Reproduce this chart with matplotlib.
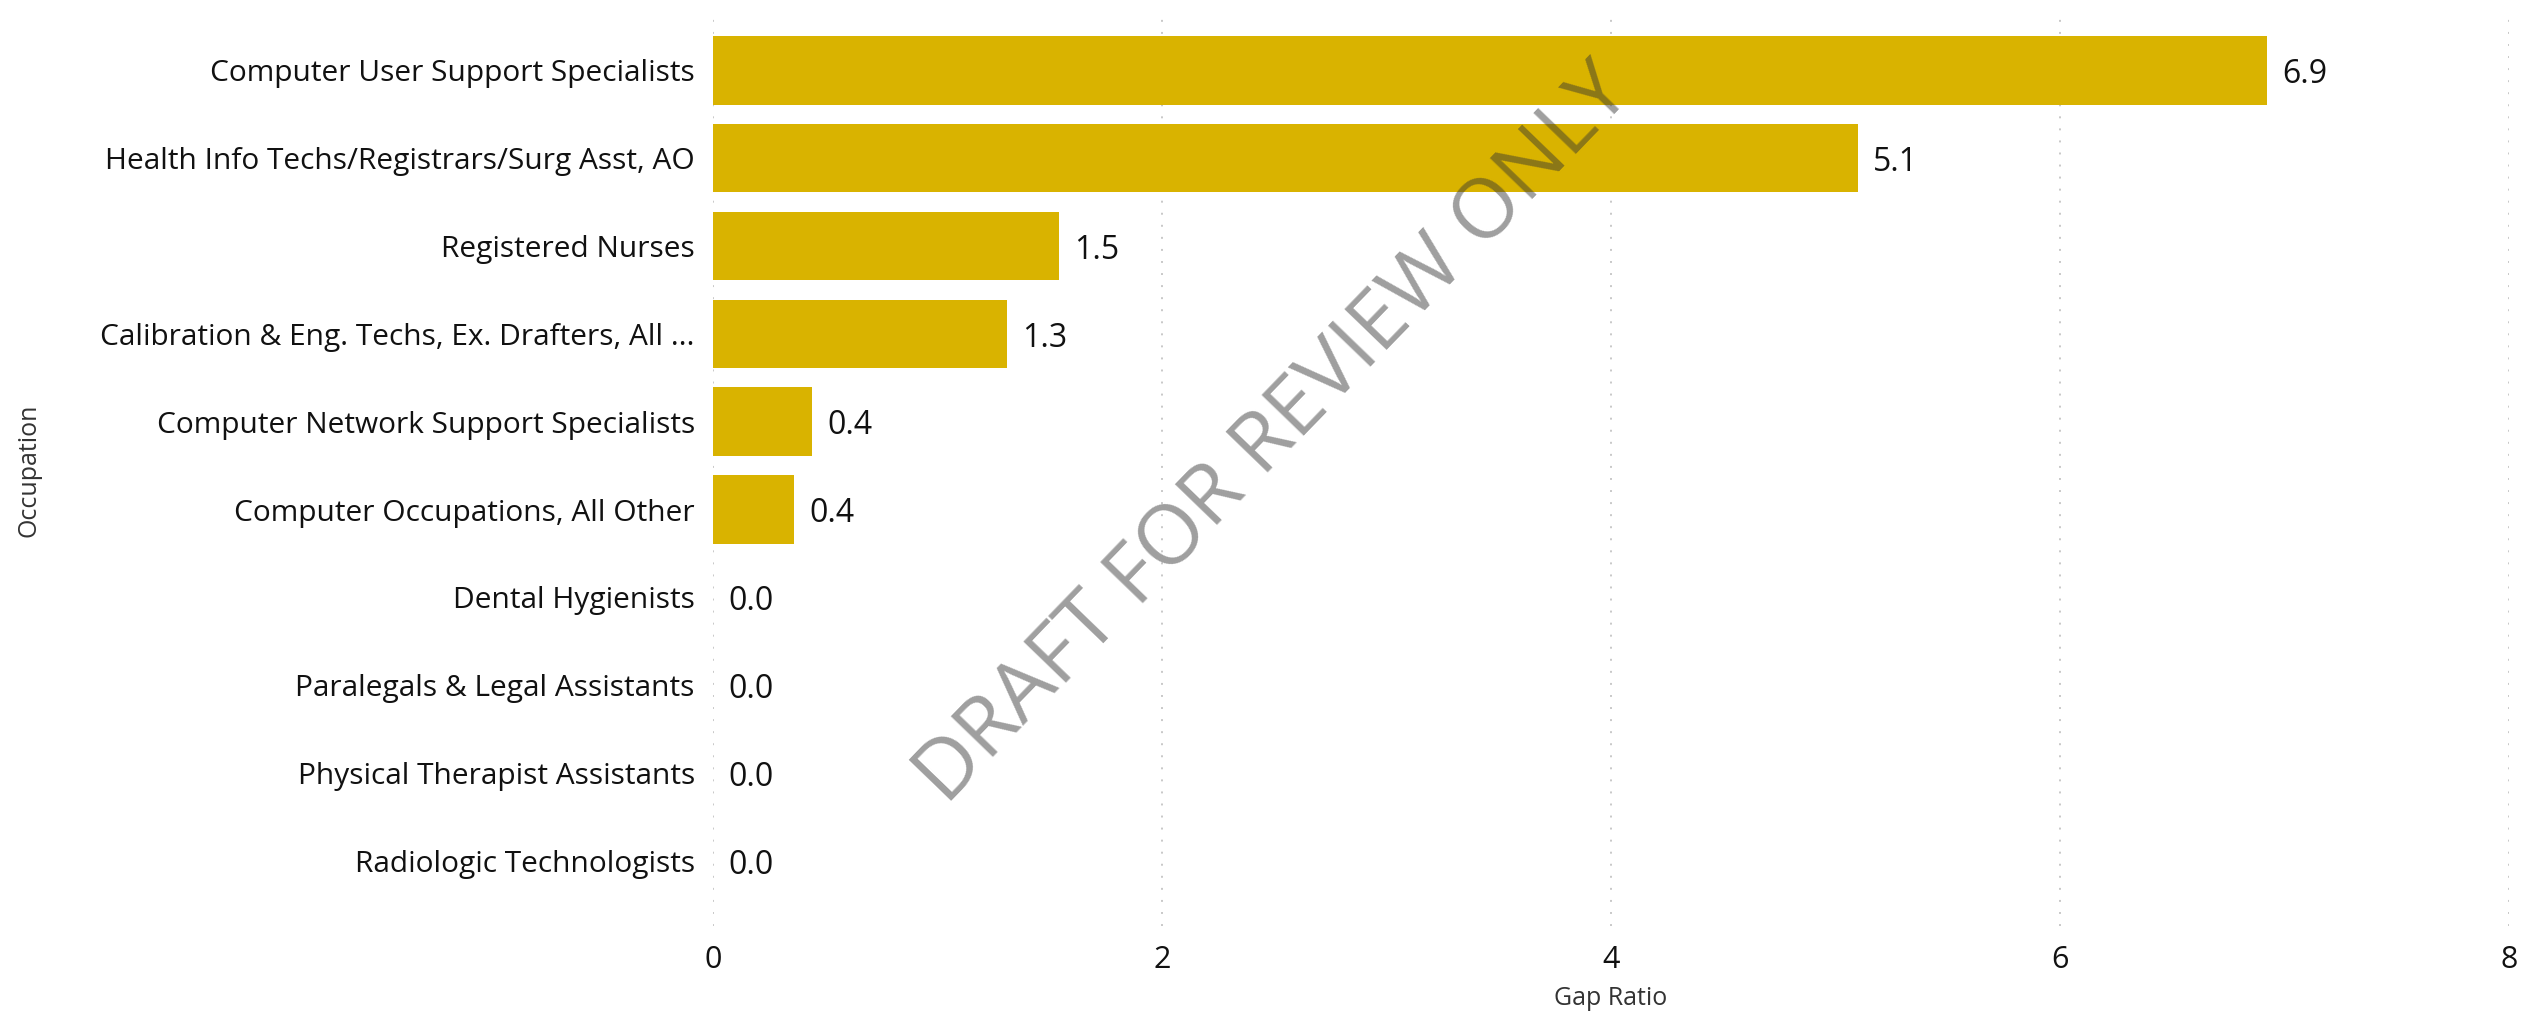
import matplotlib
matplotlib.use('Agg')
import matplotlib.pyplot as plt

# Data
occupations = [
    'Computer User Support Specialists',
    'Health Info Techs/Registrars/Surg Asst, AO',
    'Registered Nurses',
    'Calibration & Eng. Techs, Ex. Drafters, All ...',
    'Computer Network Support Specialists',
    'Computer Occupations, All Other',
    'Dental Hygienists',
    'Paralegals & Legal Assistants',
    'Physical Therapist Assistants',
    'Radiologic Technologists',
]
gap_ratio = [6.92, 5.10, 1.54, 1.31, 0.44, 0.36, 0.0, 0.0, 0.0, 0.0]
x_ticks = [0, 2, 4, 6, 8]

plt.rcParams['font.family'] = ['Open Sans', 'DejaVu Sans']

fig = plt.figure(figsize=(25.46, 10.22), dpi=100)
ax = fig.add_axes([0.280, 0.094, 0.7055, 0.893])

pos = list(range(len(occupations)))
ax.barh(pos, gap_ratio, height=0.78, color='#D9B300', zorder=2)

# value labels
for p, v in zip(pos, gap_ratio):
    ax.annotate('{:.1f}'.format(v), xy=(v, p), xytext=(11, -3), textcoords='offset points',
                va='center', ha='left', fontsize=23, color='#111111')

ax.set_yticks(pos)
ax.set_yticklabels(occupations, fontsize=21.5, color='#111111')
ax.set_ylim(9.74, -0.65)

ax.set_xlim(0, 8)
ax.set_xticks(x_ticks)
ax.set_xticklabels([str(t) for t in x_ticks], fontsize=22, color='#111111')
ax.tick_params(axis='y', length=0, pad=13)
ax.tick_params(axis='x', length=0, pad=14)

ax.grid(axis='x', color='#c8c8c8', linewidth=1.4, linestyle=(0, (1, 5.2)))
ax.grid(axis='y', visible=False)
ax.set_axisbelow(True)
for s in ax.spines.values():
    s.set_visible(False)

ax.set_xlabel('Gap Ratio', fontsize=18, color='#333333', labelpad=8)
fig.text(0.0115, 0.54, 'Occupation', rotation=90, va='center', ha='center',
         fontsize=18, color='#333333')

# watermark
fig.text(0.5008, 0.574, 'DRAFT FOR REVIEW ONLY', rotation=46, rotation_mode='anchor',
         ha='center', va='center', fontsize=60, color='#333333', alpha=0.47, zorder=10)

fig.savefig('out.png', dpi=100)
